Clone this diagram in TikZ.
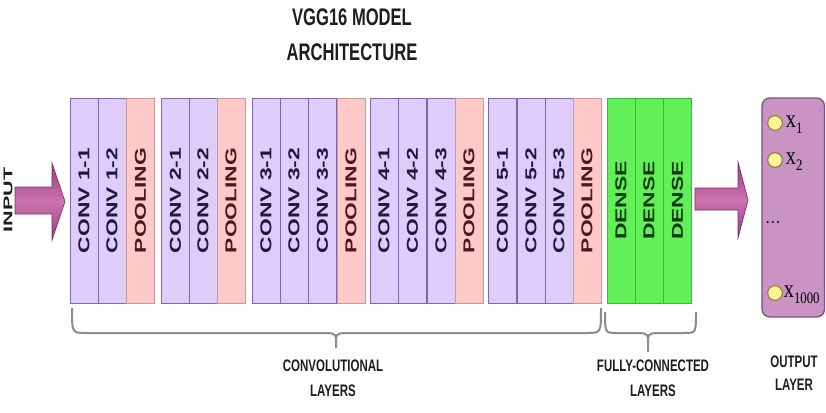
\documentclass[tikz,border=0pt]{standalone}
\usepackage{fontspec}
\setmainfont{Liberation Sans}
\newfontfamily\seriffam{Liberation Serif}
\usepackage{graphicx}
\definecolor{convfill}{RGB}{222,205,250}
\definecolor{convborder}{RGB}{125,105,170}
\definecolor{convtext}{RGB}{35,22,60}
\definecolor{poolfill}{RGB}{255,201,200}
\definecolor{poolborder}{RGB}{205,150,155}
\definecolor{pooltext}{RGB}{80,22,28}
\definecolor{densefill}{RGB}{98,240,88}
\definecolor{denseborder}{RGB}{60,185,60}
\definecolor{densetext}{RGB}{12,55,12}
\definecolor{arrdark}{RGB}{150,62,125}
\definecolor{arrlight}{RGB}{205,115,175}
\definecolor{arrborder}{RGB}{120,50,100}
\definecolor{outfill}{RGB}{201,148,196}
\definecolor{outborder}{RGB}{130,80,125}
\definecolor{dotfill}{RGB}{250,245,150}
\definecolor{dotborder}{RGB}{150,130,60}
\definecolor{bracecol}{RGB}{140,140,140}
\definecolor{labcol}{RGB}{30,30,30}
\newcommand\vlab[1]{\rotatebox{90}{\scalebox{1.45}[1]{#1}}}
\newcommand\hsq[1]{\scalebox{0.69}[1]{#1}}
\newcommand\xsub[1]{\scalebox{0.8}[1]{\seriffam\fontsize{19}{19}\selectfont x\raisebox{-4.5pt}{\fontsize{12}{12}\selectfont #1}}}
\begin{document}
\begin{tikzpicture}[x=0.75pt,y=-0.75pt,
  layer/.style={draw, line width=0.6pt, minimum width=21pt, minimum height=153.75pt, inner sep=0pt, font=\fontsize{11.8}{13}\selectfont\bfseries},
  conv/.style={layer, fill=convfill, draw=convborder, text=convtext},
  pool/.style={layer, fill=poolfill, draw=poolborder, text=pooltext},
  dense/.style={layer, fill=densefill, draw=denseborder, text=densetext},
  blockarrow/.style={draw=arrborder, line width=0.5pt, top color=arrdark, bottom color=arrdark, middle color=arrlight},
  bracestyle/.style={draw=bracecol, line width=1.5pt},
  lab/.style={text=labcol, align=center, inner sep=0pt},
  dot/.style={circle, draw=dotborder, line width=0.9pt, fill=dotfill, minimum size=11pt, inner sep=0pt}]
\useasboundingbox[fill=white] (0,0) rectangle (826,412);

% title
\node[lab, font=\fontsize{18}{26}\selectfont\bfseries] (title) at (352,35) {\hsq{VGG16 MODEL}\\\hsq{ARCHITECTURE}};

% input
\node[lab, font=\fontsize{9.5}{10}\selectfont\bfseries] (input) at (8,200) {\rotatebox{90}{\scalebox{1.7}[1]{INPUT}}};
\draw[blockarrow] (15,187) -- (52,187) -- (52,163) -- (65,201.5) -- (52,240) -- (52,214) -- (15,214) -- cycle;

% block 1
\node[conv] (c11) at (84,200.5) {\vlab{CONV 1-1}};
\node[conv] (c12) at (112,200.5) {\vlab{CONV 1-2}};
\node[pool] (p1) at (140.5,200.5) {\vlab{POOLING}};
% block 2
\node[conv] (c21) at (175.5,200.5) {\vlab{CONV 2-1}};
\node[conv] (c22) at (203,200.5) {\vlab{CONV 2-2}};
\node[pool] (p2) at (231,200.5) {\vlab{POOLING}};
% block 3
\node[conv] (c31) at (266,200.5) {\vlab{CONV 3-1}};
\node[conv] (c32) at (294,200.5) {\vlab{CONV 3-2}};
\node[conv] (c33) at (322.5,200.5) {\vlab{CONV 3-3}};
\node[pool] (p3) at (351,200.5) {\vlab{POOLING}};
% block 4
\node[conv] (c41) at (384,200.5) {\vlab{CONV 4-1}};
\node[conv] (c42) at (412.5,200.5) {\vlab{CONV 4-2}};
\node[conv] (c43) at (441,200.5) {\vlab{CONV 4-3}};
\node[pool] (p4) at (469,200.5) {\vlab{POOLING}};
% block 5
\node[conv] (c51) at (502.5,200.5) {\vlab{CONV 5-1}};
\node[conv] (c52) at (531,200.5) {\vlab{CONV 5-2}};
\node[conv] (c53) at (559,200.5) {\vlab{CONV 5-3}};
\node[pool] (p5) at (587,200.5) {\vlab{POOLING}};
% dense
\node[dense] (d1) at (621,200.5) {\vlab{DENSE}};
\node[dense] (d2) at (649,200.5) {\vlab{DENSE}};
\node[dense] (d3) at (677.5,200.5) {\vlab{DENSE}};

% output arrow
\draw[blockarrow] (695,188) -- (738,188) -- (738,162) -- (748,200) -- (738,238) -- (738,210) -- (695,210) -- cycle;

% output layer
\node[draw=outborder, line width=1pt, fill=outfill, rounded corners=6pt, minimum width=46.9pt, minimum height=164.25pt, inner sep=0pt] (out) at (793.25,207.5) {};
\node[dot] (o1) at (775,123) {};
\node[dot] (o2) at (775,160) {};
\node[dot] (o3) at (775,293) {};
\node[anchor=west, inner sep=0pt] (x1) at ([xshift=2pt,yshift=-1.5pt]o1.east) {\xsub{1}};
\node[anchor=west, inner sep=0pt] (x2) at ([xshift=2pt,yshift=-1.5pt]o2.east) {\xsub{2}};
\node[anchor=west, inner sep=0pt] (x3) at ([xshift=0.5pt,yshift=-1.5pt]o3.east) {\xsub{1000}};
\node[text=labcol, inner sep=0pt, font=\fontsize{14}{14}\selectfont] (dots) at (773,222) {...};

% braces
\draw[bracestyle] (72,308) .. controls (72,333) and (72,333) .. (86,333) -- (326,333) .. controls (336,333) and (336,335) .. (336,342) -- (336,348);
\draw[bracestyle] (336,342) .. controls (336,335) and (336,333) .. (346,333) -- (587,333) .. controls (601,333) and (601,333) .. (601,308);
\draw[bracestyle] (605,312) .. controls (605,333) and (605,333) .. (617,333) -- (638,333) .. controls (648,333) and (648,335) .. (648,342) -- (648,352);
\draw[bracestyle] (648,342) .. controls (648,335) and (648,333) .. (658,333) -- (684,333) .. controls (696,333) and (696,333) .. (696,312);

% bottom labels
\node[lab, font=\fontsize{12.5}{19}\selectfont\bfseries] (convlab) at (333,378) {\hsq{CONVOLUTIONAL}\\\hsq{LAYERS}};
\node[lab, font=\fontsize{12.5}{19}\selectfont\bfseries] (fclab) at (653,378.5) {\hsq{FULLY-CONNECTED}\\\hsq{LAYERS}};
\node[lab, font=\fontsize{12.5}{17}\selectfont\bfseries] (outlab) at (794,373) {\hsq{OUTPUT}\\\hsq{LAYER}};
\end{tikzpicture}
\end{document}
